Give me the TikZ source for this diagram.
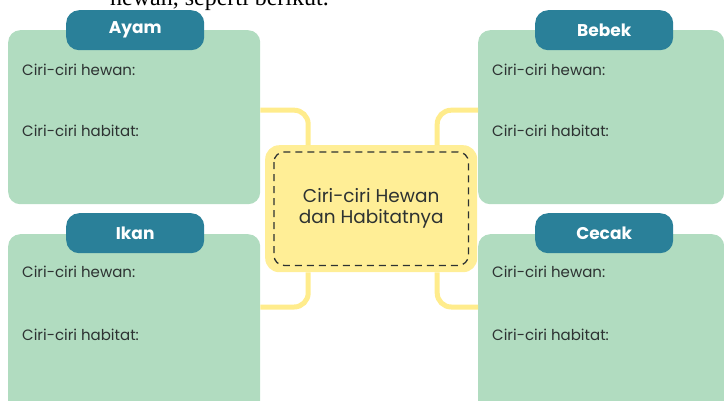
\documentclass[tikz,border=0pt]{standalone}
\usepackage{fontspec}
\setmainfont{Poppins}
\newfontfamily\serifcut{Liberation Serif}
\usetikzlibrary{calc,positioning}
\definecolor{boxgreen}{RGB}{177,220,192}
\definecolor{tabteal}{RGB}{42,128,153}
\definecolor{hubyellow}{RGB}{255,238,150}
\definecolor{linkyellow}{RGB}{255,236,140}
\definecolor{txtgray}{RGB}{45,50,50}
\tikzset{
  animalbox/.style={fill=boxgreen, rounded corners=12pt, minimum width=252pt, minimum height=174pt, inner sep=0pt, anchor=north west},
  tabbox/.style={fill=tabteal, rounded corners=13pt, minimum width=138pt, minimum height=40pt, inner sep=0pt, anchor=north west, text=white, font=\fontsize{17}{19}\selectfont\fontseries{sb}\selectfont},
  fieldtext/.style={anchor=west, inner sep=0pt, text=txtgray, font=\fontsize{15}{17}\selectfont},
  link/.style={draw=linkyellow, line width=5pt, rounded corners=14pt}
}
\begin{document}
\begin{tikzpicture}[x=1pt,y=-1pt]
			%%%%% START %%%%%
			\useasboundingbox (0,0) rectangle (724,400);
			\clip (0,0) rectangle (724,400);
			
			\node[anchor=base west, inner sep=0pt, font=\serifcut\fontsize{24}{26}\selectfont] (intro) at (110,5) {hewan, seperti berikut.};
			
			% connectors
			\node[fill=hubyellow, rounded corners=14pt, minimum width=212pt, minimum height=127pt, inner sep=0pt, anchor=north west] (hub) at (265,145) {};
			
			\node[animalbox] (ayambox) at (8,30) {};
			\node[animalbox, minimum width=246pt] (bebekbox) at (478,30) {};
			\node[animalbox, minimum height=190pt] (ikanbox) at (8,234) {};
			\node[animalbox, minimum width=246pt, minimum height=190pt] (cecakbox) at (478,234) {};
			
			\draw[link] ([yshift=7pt]ayambox.east) -| ([xshift=-63pt]hub.north);
			\draw[link] ([yshift=7pt]bebekbox.west) -| ([xshift=66pt]hub.north);
			\draw[link] (ikanbox.east |- 0,307) -| ([xshift=-63pt]hub.south);
			\draw[link] (cecakbox.west |- 0,307) -| ([xshift=66pt]hub.south);
			
			\draw[txtgray, line width=1.3pt, dash pattern=on 7pt off 5pt, rounded corners=10pt] ([shift={(9pt,-7pt)}]hub.north west) rectangle ([shift={(-9pt,7pt)}]hub.south east);
			\node[align=center, text=txtgray, font=\fontsize{18.5}{21}\selectfont] (hubtext) at (hub.center) {Ciri-ciri Hewan\\dan Habitatnya};
			
			\node[tabbox] (ayamtab) at (66,10) {Ayam};
			\node[tabbox] (bebektab) at (535,10) {Bebek};
			\node[tabbox] (ikantab) at (66,213) {Ikan};
			\node[tabbox] (cecaktab) at (535,213) {Cecak};
			
			\node[fieldtext] (ayamhewan) at (22,70) {Ciri-ciri hewan:};
			\node[fieldtext] (ayamhabitat) at (22,131) {Ciri-ciri habitat:};
			\node[fieldtext] (bebekhewan) at (492,70) {Ciri-ciri hewan:};
			\node[fieldtext] (bebekhabitat) at (492,131) {Ciri-ciri habitat:};
			\node[fieldtext] (ikanhewan) at (22,272) {Ciri-ciri hewan:};
			\node[fieldtext] (ikanhabitat) at (22,335) {Ciri-ciri habitat:};
			\node[fieldtext] (cecakhewan) at (492,272) {Ciri-ciri hewan:};
			\node[fieldtext] (cecakhabitat) at (492,335) {Ciri-ciri habitat:};
			
			%%%%% END %%%%%
\end{tikzpicture}
\end{document}
